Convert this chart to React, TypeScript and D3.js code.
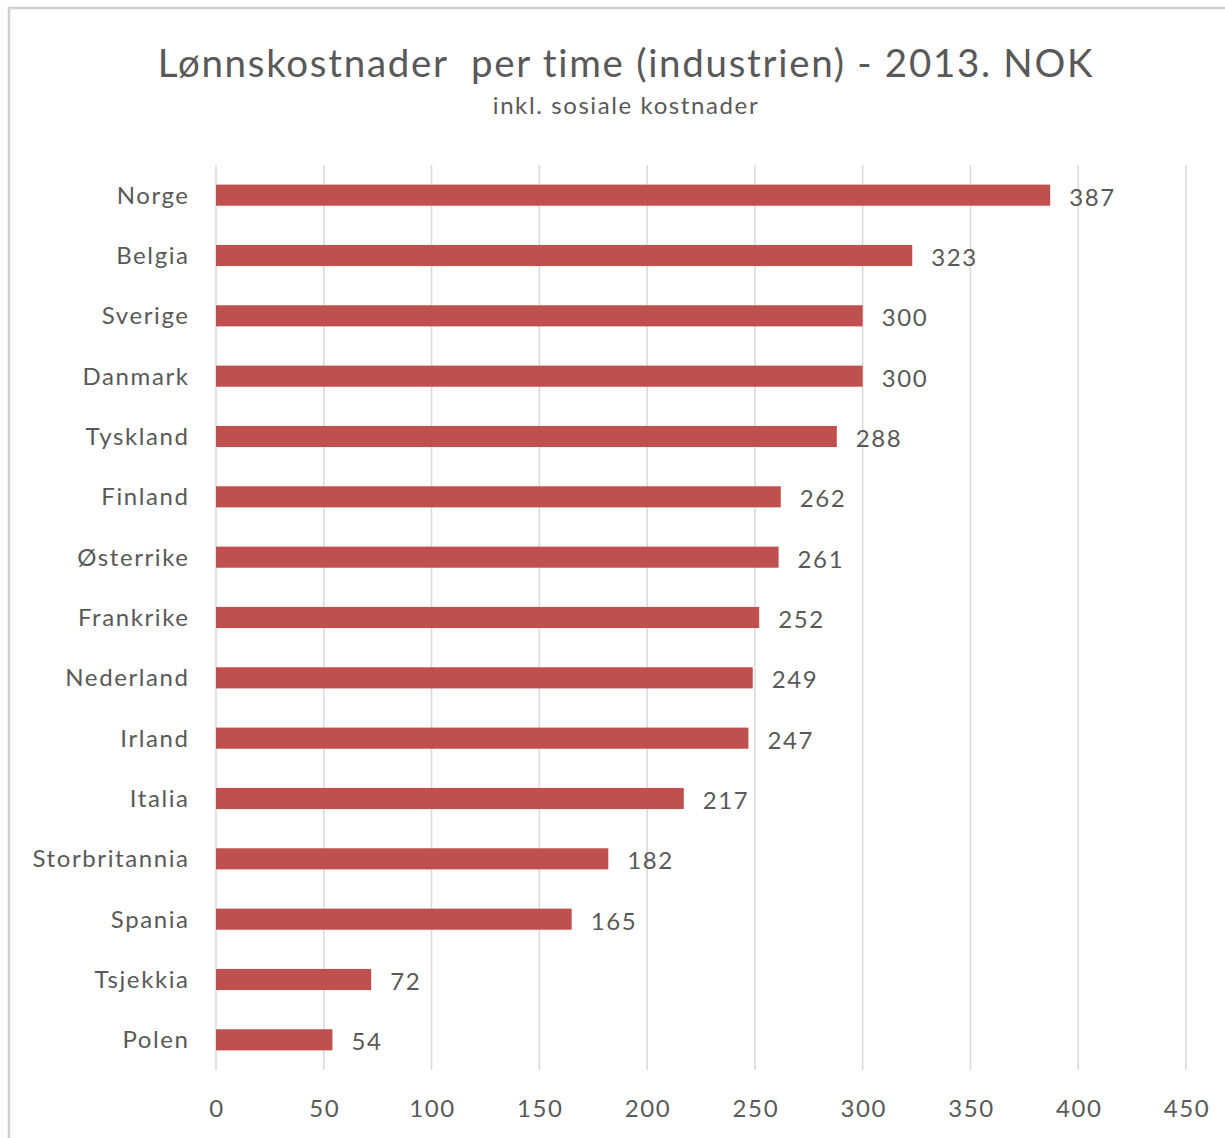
import * as d3 from "d3";
import React from "react";

const WIDTH = 1225;
const HEIGHT = 1138;
const MARGIN = { top: 165, right: 39, bottom: 68, left: 216 };

const countries = [
    "Norge",
    "Belgia",
    "Sverige",
    "Danmark",
    "Tyskland",
    "Finland",
    "Østerrike",
    "Frankrike",
    "Nederland",
    "Irland",
    "Italia",
    "Storbritannia",
    "Spania",
    "Tsjekkia",
    "Polen",
];
const costs = [387, 323, 300, 300, 288, 262, 261, 252, 249, 247, 217, 182, 165, 72, 54];
const xTicks = [0, 50, 100, 150, 200, 250, 300, 350, 400, 450];

const FONT = "Lato, 'Open Sans', sans-serif";
const TEXT_COLOR = "#595959";
const BAR_COLOR = "#C0504D";
const GRID_COLOR = "#D9D9D9";
const SPACING = 1.6;

const App: React.FC = () => {
    // bounds = plot area inside the margins
    const boundsWidth = WIDTH - MARGIN.left - MARGIN.right;
    const boundsHeight = HEIGHT - MARGIN.top - MARGIN.bottom;

    const xScale = d3.scaleLinear().domain([0, 450]).range([0, boundsWidth]);
    const yScale = d3
        .scaleBand<string>()
        .domain(countries)
        .range([0, boundsHeight])
        .paddingInner(0.65)
        .paddingOuter(0.325);

    return (
        <svg
            width={WIDTH}
            height={HEIGHT}
            style={{ position: "absolute", left: 0, top: 0, background: "#fff" }}
        >
            <rect x={9} y={8} width={1230} height={1150} fill="#fff" stroke="#D0D0D0" strokeWidth={2.5} />
            <text
                x={626}
                y={77}
                textAnchor="middle"
                fontFamily={FONT}
                fontSize={38.5}
                letterSpacing={1.7}
                fill={TEXT_COLOR}
                style={{ whiteSpace: "pre" }}
            >
                {"Lønnskostnader  per time (industrien) - 2013. NOK"}
            </text>
            <text
                x={626}
                y={114}
                textAnchor="middle"
                fontFamily={FONT}
                fontSize={24}
                letterSpacing={SPACING}
                fill={TEXT_COLOR}
            >
                inkl. sosiale kostnader
            </text>
            <g transform={`translate(${MARGIN.left},${MARGIN.top})`}>
                {xTicks.map((t) => (
                    <g key={t}>
                        <line
                            x1={xScale(t)}
                            x2={xScale(t)}
                            y1={0}
                            y2={boundsHeight}
                            stroke={GRID_COLOR}
                            strokeWidth={1.5}
                        />
                        <text
                            x={xScale(t) + 1}
                            y={boundsHeight + 47}
                            textAnchor="middle"
                            fontFamily={FONT}
                            fontSize={24}
                            letterSpacing={SPACING}
                            fill={TEXT_COLOR}
                        >
                            {t}
                        </text>
                    </g>
                ))}
                {countries.map((c, i) => {
                    const y = yScale(c) || 0;
                    const bh = yScale.bandwidth();
                    return (
                        <g key={c}>
                            <rect
                                x={xScale(0)}
                                y={y}
                                width={xScale(costs[i]) - xScale(0)}
                                height={bh}
                                fill={BAR_COLOR}
                            />
                            <text
                                x={-28 + SPACING}
                                y={y + bh / 2}
                                dy="0.35em"
                                textAnchor="end"
                                fontFamily={FONT}
                                fontSize={24}
                                letterSpacing={SPACING}
                                fill={TEXT_COLOR}
                            >
                                {c}
                            </text>
                            <text
                                x={xScale(costs[i]) + 19}
                                y={y + bh / 2 + 2}
                                dy="0.35em"
                                fontFamily={FONT}
                                fontSize={24}
                                letterSpacing={SPACING}
                                fill={TEXT_COLOR}
                            >
                                {costs[i]}
                            </text>
                        </g>
                    );
                })}
            </g>
        </svg>
    );
};

export default App;
